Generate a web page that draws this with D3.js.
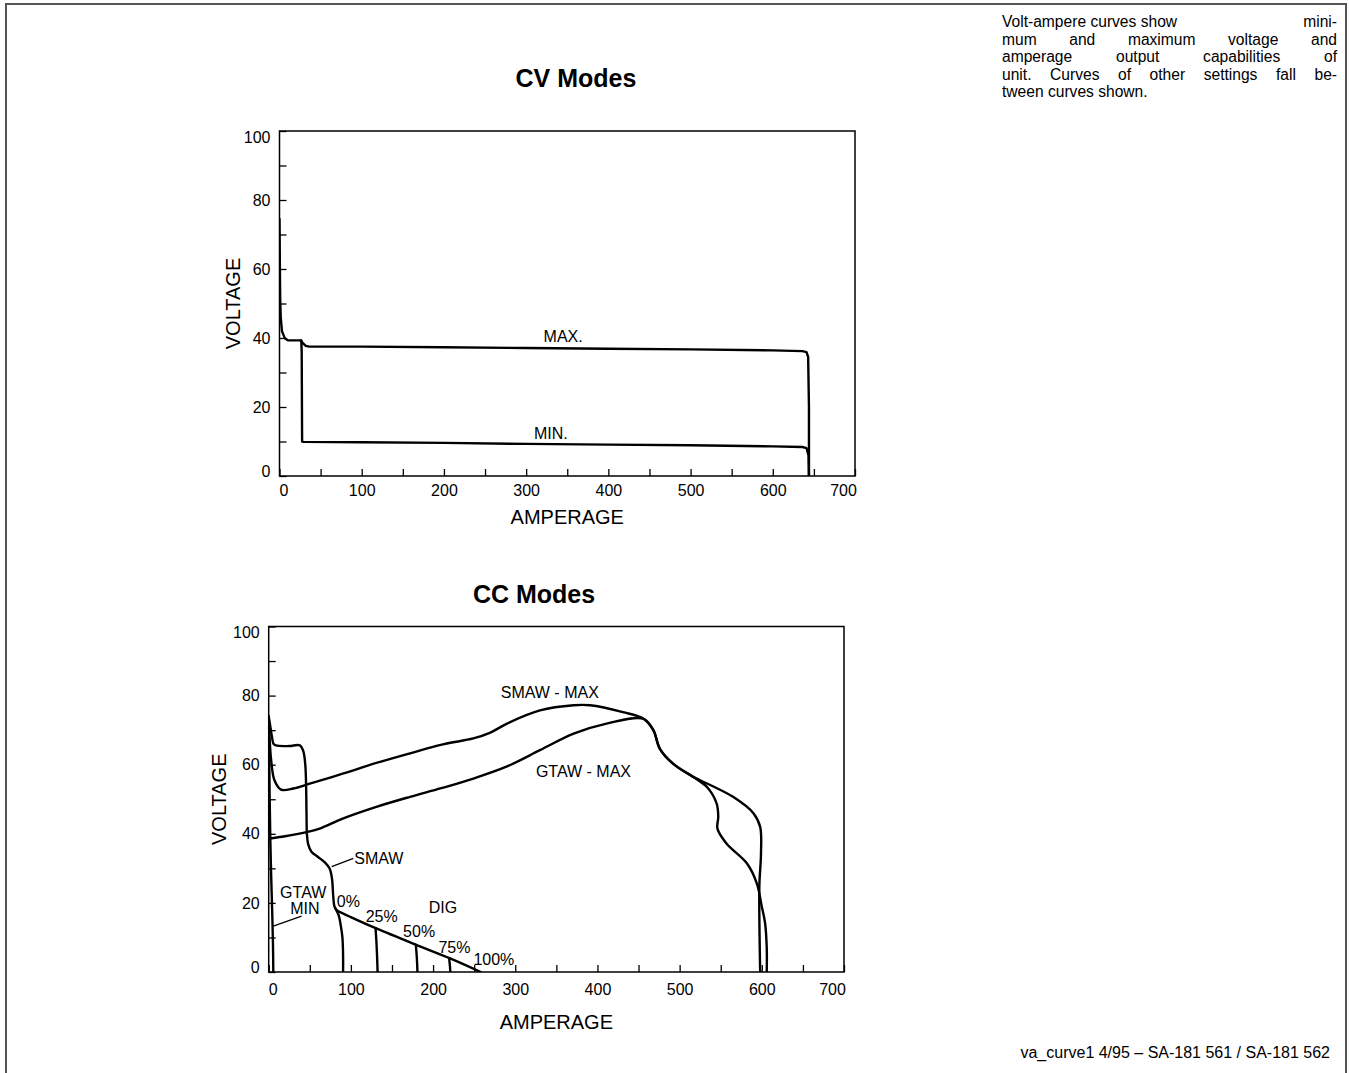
<!DOCTYPE html>
<html>
<head>
<meta charset="utf-8">
<script src="https://cdn.jsdelivr.net/npm/d3@7"></script>
<style>
	body { margin: 0; background: #fff; }
	svg text { font-family: "Liberation Sans", Arial, Helvetica, sans-serif; fill: #000; }
</style>
</head>
<body>
<div id="chart-area"></div>
<script>
/*
*    Volt-ampere curves, CV and CC modes
*/

// ---- tick values (both panels share them)
const ampTicks = [0, 50, 100, 150, 200, 250, 300, 350, 400, 450, 500, 550, 600, 650, 700]
const ampLabels = [0, 100, 200, 300, 400, 500, 600, 700]
const voltTicks = [0, 10, 20, 30, 40, 50, 60, 70, 80, 90, 100]
const voltLabels = [0, 20, 40, 60, 80, 100]

// ---- CV modes (amps / volts)
const cvMaxAmps  = [0, 0.4, 0.8, 1.5, 3, 6.5, 10.5, 20, 26, 28, 32, 36, 100, 200, 300, 400, 500, 600, 636, 641, 643, 644, 644]
const cvMaxVolts = [74.5, 62, 52, 46, 42, 39.9, 39.3, 39.3, 39.3, 38.6, 37.7, 37.5, 37.5, 37.3, 37.1, 36.9, 36.7, 36.4, 36.2, 35.9, 34.5, 20, 0]
const cvMinAmps  = [26.5, 27, 27.5, 29, 100, 200, 300, 400, 500, 600, 636, 641, 643.5, 644]
const cvMinVolts = [39.3, 36, 10, 9.9, 9.8, 9.6, 9.3, 9.1, 8.9, 8.6, 8.4, 8.1, 6, 0]

// ---- CC modes
const smawMaxAmps  = [0, 1, 3, 7, 15, 30, 50, 90, 131, 172, 212, 249, 269, 290, 330, 371, 391, 431, 456, 468, 476, 492, 517, 525, 565, 590, 598, 599, 597, 598]
const smawMaxVolts = [74, 68, 61.3, 55.5, 52.8, 53.1, 54.5, 57.4, 60.5, 63.3, 65.9, 67.6, 69.2, 71.9, 75.7, 77.2, 77.2, 75.2, 73.3, 70, 64.6, 60.3, 56.4, 55.5, 50.7, 45.9, 42, 34.3, 24.7, 0]
const gtawMaxAmps  = [0, 20, 46, 62, 90, 131, 172, 210, 249, 290, 330, 371, 411, 456, 468, 476, 492, 517, 533, 545, 547, 546, 557, 582, 594, 600, 604, 606, 606]
const gtawMaxVolts = [38.6, 39.3, 40.5, 41.5, 44.4, 47.8, 50.7, 53.2, 56, 59.5, 64.2, 69, 71.9, 73.3, 70, 64.6, 60.3, 56.4, 53.6, 48.8, 44.9, 41.5, 37.2, 31.4, 25.6, 18.9, 14.1, 7, 0]
const smawAmps  = [0, 2, 4, 6, 10, 25, 38, 42, 44.5, 45.5, 46, 46.5, 48, 52, 60, 68, 74, 77, 78.5, 80, 83, 90, 99, 131, 180, 220, 258]
const smawVolts = [74, 71, 68, 66, 65.5, 65.4, 65.6, 64, 60, 54, 46, 40, 37, 34.8, 33.3, 31.8, 30, 27, 22, 19, 17.8, 17, 16, 12.6, 7.8, 4, 0]
const gtawMinAmps  = [0, 0.5, 1.2, 2, 3, 4.2, 5.2, 5.6]
const gtawMinVolts = [74, 65, 50, 38, 28, 18, 8, 0]
const digAmps = [
	[81, 85, 88, 89.7, 90.5, 90.5],
	[130, 131, 131.8, 132.5],
	[179, 180, 180.6, 181],
	[219.5, 220.2, 220.7, 221]
]
const digVolts = [
	[18.5, 16.5, 13, 10, 5, 0],
	[12.7, 9, 5, 0],
	[7.9, 5, 2.5, 0],
	[4, 2.5, 1.2, 0]
]

// ---- annotations (data units)
const cvNotes = [
	{ text: "MAX.", a: 345, v: 40.6 },
	{ text: "MIN.", a: 330, v: 12.4 }
]
const ccNotes = [
	{ text: "SMAW - MAX", a: 342, v: 81 },
	{ text: "GTAW - MAX", a: 383, v: 58.2 },
	{ text: "SMAW", a: 134, v: 33 },
	{ text: "GTAW", a: 42, v: 23.2 },
	{ text: "MIN", a: 44, v: 18.4 },
	{ text: "0%", a: 97, v: 20.6 },
	{ text: "25%", a: 137.5, v: 16 },
	{ text: "DIG", a: 212, v: 18.6 },
	{ text: "50%", a: 183, v: 11.7 },
	{ text: "75%", a: 226, v: 7.3 },
	{ text: "100%", a: 274, v: 3.8 }
]
const ccPointers = [
	[[103, 32.9], [76.6, 30.5]],
	[[40, 16.2], [5.6, 13.3]]
]

const paragraph = [
	"Volt-ampere curves show  mini-",
	"mum and maximum voltage and",
	"amperage output capabilities of",
	"unit. Curves of other settings fall be-",
	"tween curves shown."
]
const footer = "va_curve1 4/95 \u2013 SA-181 561 / SA-181 562"

const WIDTH = 1349
const HEIGHT = 1073

const svg = d3.select("#chart-area").append("svg")
	.attr("width", WIDTH)
	.attr("height", HEIGHT)

// page border (top, left, right)
svg.append("path")
	.attr("d", `M6,${HEIGHT} V4 H1346 V${HEIGHT}`)
	.attr("fill", "none")
	.attr("stroke", "#555")
	.attr("stroke-width", 2)

class PanelController {

	constructor(id, BOX, opts) {
		this.BOX = BOX
		this.x = d3.scaleLinear().domain([0, 700]).range([BOX.LEFT, BOX.RIGHT])
		this.y = d3.scaleLinear().domain([0, 100]).range([BOX.BOTTOM, BOX.TOP])
		this.g = svg.append("g")
		this.g.append("clipPath").attr("id", id)
			.append("rect")
			.attr("x", BOX.LEFT).attr("y", BOX.TOP)
			.attr("width", BOX.RIGHT - BOX.LEFT).attr("height", BOX.BOTTOM - BOX.TOP)
		this.plot = this.g.append("g").attr("clip-path", `url(#${id})`)
		this._addAxis(opts)
		this._addTitles(opts)
	}

	_addAxis(opts) {
		const x = this.x, y = this.y, BOX = this.BOX

		const yAxisCall = d3.axisLeft(y)
			.tickValues(voltTicks)
			.tickSize(-7)
			.tickPadding(9)
			.tickFormat(d => voltLabels.includes(d) ? d : "")
		const yg = this.g.append("g")
			.attr("class", "y axis")
			.attr("transform", `translate(${BOX.LEFT}, 0)`)
			.call(yAxisCall)
		// end labels sit slightly inside the frame in the original
		yg.selectAll(".tick text")
			.attr("y", d => d === 0 ? -5 : (d === 100 ? 6 : 0))

		const xAxisCall = d3.axisBottom(x)
			.tickValues(ampTicks)
			.tickSize(-7)
			.tickPadding(opts.xPad)
			.tickFormat(d => ampLabels.includes(d) ? d : "")
		const xg = this.g.append("g")
			.attr("class", "x axis")
			.attr("transform", `translate(0, ${BOX.BOTTOM})`)
			.call(xAxisCall)
		xg.selectAll(".tick text")
			.attr("dx", d => d === 0 ? 4 : (d === 700 ? -12 : 0))

		this.g.selectAll(".axis .domain").remove()
		this.g.selectAll(".axis text")
			.attr("font-size", "16px")
			.attr("font-family", null)
		this.g.selectAll(".axis line")
			.attr("stroke", "#000")
			.attr("stroke-width", 1.3)

		// plot frame
		this.g.append("rect")
			.attr("x", BOX.LEFT).attr("y", BOX.TOP)
			.attr("width", BOX.RIGHT - BOX.LEFT)
			.attr("height", BOX.BOTTOM - BOX.TOP)
			.attr("fill", "none")
			.attr("stroke", "#000")
			.attr("stroke-width", 1.5)
	}

	_addTitles(opts) {
		const BOX = this.BOX
		this.g.append("text")
			.attr("x", opts.titleX)
			.attr("y", opts.titleY)
			.attr("font-size", "25px")
			.attr("font-weight", "bold")
			.attr("text-anchor", "middle")
			.text(opts.title)

		// X label
		this.g.append("text")
			.attr("x", (BOX.LEFT + BOX.RIGHT) / 2)
			.attr("y", opts.xLabelY)
			.attr("font-size", "20px")
			.attr("text-anchor", "middle")
			.text("AMPERAGE")

		// Y label
		this.g.append("text")
			.attr("x", -(BOX.TOP + BOX.BOTTOM) / 2)
			.attr("y", opts.yLabelX)
			.attr("font-size", "20px")
			.attr("text-anchor", "middle")
			.attr("transform", "rotate(-90)")
			.text("VOLTAGE")
	}

	addCurve(amps, volts, curve) {
		const line = d3.line()
			.x(d => this.x(d[0]))
			.y(d => this.y(d[1]))
			.curve(curve)
		this.plot.append("path")
			.datum(d3.zip(amps, volts))
			.attr("d", line)
			.attr("fill", "none")
			.attr("stroke", "#000")
			.attr("stroke-width", 2.4)
			.attr("stroke-linejoin", "round")
			.attr("stroke-linecap", "round")
	}

	addNotes(notes) {
		this.g.selectAll(null)
			.data(notes)
			.enter().append("text")
			.attr("x", d => this.x(d.a))
			.attr("y", d => this.y(d.v))
			.attr("dy", "0.36em")
			.attr("font-size", "16px")
			.attr("text-anchor", "middle")
			.text(d => d.text)
	}

	addPointers(pointers) {
		this.g.selectAll(null)
			.data(pointers)
			.enter().append("line")
			.attr("x1", d => this.x(d[0][0]))
			.attr("y1", d => this.y(d[0][1]))
			.attr("x2", d => this.x(d[1][0]))
			.attr("y2", d => this.y(d[1][1]))
			.attr("stroke", "#000")
			.attr("stroke-width", 1.3)
	}
}

const cv = new PanelController("clip-cv",
	{ LEFT: 279.5, TOP: 131, RIGHT: 855, BOTTOM: 476 },
	{ title: "CV Modes", titleX: 576, titleY: 87, xLabelY: 524, yLabelX: 240, xPad: 9 })
cv.addCurve(cvMaxAmps, cvMaxVolts, d3.curveLinear)
cv.addCurve(cvMinAmps, cvMinVolts, d3.curveLinear)
cv.addNotes(cvNotes)

const cc = new PanelController("clip-cc",
	{ LEFT: 268.7, TOP: 626.5, RIGHT: 844, BOTTOM: 972 },
	{ title: "CC Modes", titleX: 534, titleY: 603, xLabelY: 1029, yLabelX: 226, xPad: 12 })
const smooth = d3.curveCatmullRom.alpha(0.5)
cc.addCurve(smawMaxAmps, smawMaxVolts, smooth)
cc.addCurve(gtawMaxAmps, gtawMaxVolts, smooth)
cc.addCurve(smawAmps, smawVolts, smooth)
cc.addCurve(gtawMinAmps, gtawMinVolts, smooth)
digAmps.forEach((a, i) => cc.addCurve(a, digVolts[i], smooth))
cc.addNotes(ccNotes)
cc.addPointers(ccPointers)

// note text, justified between two edges
const NOTE_LEFT = 1002
const NOTE_RIGHT = 1337
const NOTE_SIZE = "15.6px"
paragraph.forEach((line, i) => {
	const y = 27 + i * 17.5
	if (line.includes("  ")) {
		// hard gap: left part flush left, rest flush right
		const parts = line.split("  ")
		svg.append("text").attr("x", NOTE_LEFT).attr("y", y)
			.attr("font-size", NOTE_SIZE).text(parts[0])
		svg.append("text").attr("x", NOTE_RIGHT).attr("y", y)
			.attr("font-size", NOTE_SIZE).attr("text-anchor", "end").text(parts[1])
		return
	}
	const t = svg.append("text")
		.attr("x", NOTE_LEFT)
		.attr("y", y)
		.attr("font-size", NOTE_SIZE)
		.text(line)
	if (i < paragraph.length - 1) {
		const spaces = line.split(" ").length - 1
		const extra = (NOTE_RIGHT - NOTE_LEFT) - t.node().getComputedTextLength()
		t.attr("word-spacing", extra / spaces)
	}
})

svg.append("text")
	.attr("x", 1330)
	.attr("y", 1058)
	.attr("font-size", "16px")
	.attr("text-anchor", "end")
	.text(footer)
</script>
</body>
</html>
